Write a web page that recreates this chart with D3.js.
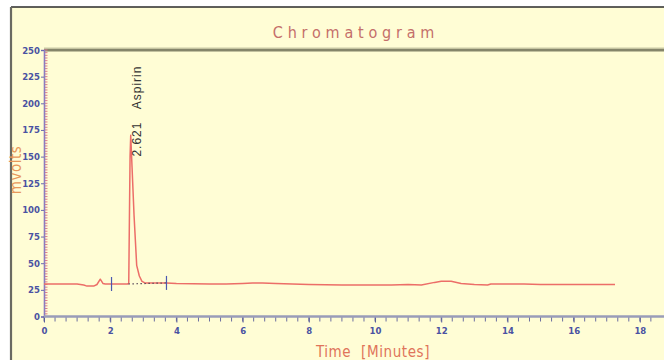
<!DOCTYPE html>
<html>
<head>
<meta charset="utf-8">
<script src="https://cdn.jsdelivr.net/npm/d3@7"></script>
<style>
  html, body { margin: 0; padding: 0; background: #fff; }
  svg { display: block; }
</style>
</head>
<body>
<div id="chart"></div>
<script>
'use strict';

// signal (time in minutes, response in mvolts)
var times = [0, 0.5, 1.0, 1.2, 1.3, 1.5, 1.6, 1.7, 1.78, 1.85, 2.0, 2.3, 2.52, 2.56, 2.6, 2.62, 2.66, 2.72, 2.8, 2.88, 2.96, 3.05, 3.3, 3.7, 4.0, 5.0, 5.5, 6.0, 6.3, 6.6, 7.0, 7.5, 8.0, 9.0, 10.0, 10.5, 11.0, 11.4, 11.8, 12.0, 12.3, 12.6, 13.0, 13.4, 13.5, 14.0, 14.5, 15.0, 15.5, 16.0, 16.5, 17.0, 17.25];
var mvolts = [30.5, 30.5, 30.5, 29.5, 28.5, 28.5, 30, 35, 31, 30.5, 30.5, 30.5, 30.5, 31, 150, 170, 140, 95, 48, 38, 33, 31.5, 31.5, 31.5, 31, 30.5, 30.5, 31, 31.5, 31.5, 31, 30.5, 30, 29.5, 29.5, 29.5, 30, 29.5, 32, 33, 33, 31, 30, 29.5, 30.5, 30.5, 30.5, 30, 30, 30, 30, 30, 30];

// integration baseline and its start/end markers
var baseTimes = [2.55, 3.7];
var baseValues = [30.5, 31.5];
var markerTimes = [2.04, 3.7];
var markerValues = [30.5, 31.5];

// peak label
var peakTime = 2.621;
var peakName = 'Aspirin';
var labelAt = 150;

var xTicks = [0, 2, 4, 6, 8, 10, 12, 14, 16, 18];
var yTicks = [0, 25, 50, 75, 100, 125, 150, 175, 200, 225, 250];

var W = 664, H = 360;
var plotLeft = 44, plotTop = 50, plotBottom = 316.5;
var narrow = '"Liberation Sans Narrow", "DejaVu Sans Condensed", sans-serif';

var svg = d3.select('#chart').append('svg').attr('width', W).attr('height', H);

// panel
svg.append('rect').attr('x', 11).attr('y', 7).attr('width', W - 11).attr('height', H - 7).attr('fill', '#fffdd5');
svg.append('line').attr('x1', 11).attr('x2', W).attr('y1', 7).attr('y2', 7).attr('stroke', '#2a2a2a').attr('stroke-width', 1.6);
svg.append('line').attr('x1', 11).attr('x2', 11).attr('y1', 7).attr('y2', H).attr('stroke', '#6a6a62').attr('stroke-width', 2.2);

var x = d3.scaleLinear().domain([0, 18.73]).range([plotLeft, W]);
var y = d3.scaleLinear().domain([0, 250]).range([plotBottom, plotTop]);

// title
svg.append('text').attr('x', 356).attr('y', 38).attr('text-anchor', 'middle')
  .style('font', '16px ' + narrow)
  .style('letter-spacing', '4.8px').attr('fill', '#c46f6a').text('Chromatogram');

// top frame of plot area
svg.append('line').attr('x1', plotLeft).attr('x2', W).attr('y1', plotTop).attr('y2', plotTop).attr('stroke', '#85856a').attr('stroke-width', 3);
svg.append('line').attr('x1', plotLeft).attr('x2', W).attr('y1', plotTop - 2).attr('y2', plotTop - 2).attr('stroke', '#c9c9a4').attr('stroke-width', 1);

// y axis: minor ticks every 2.5
var yMinor = d3.range(0, 250.01, 2.5);
svg.append('g').selectAll('line').data(yMinor).enter().append('line')
  .attr('x1', plotLeft).attr('x2', plotLeft + 3.5)
  .attr('y1', function (d) { return y(d); }).attr('y2', function (d) { return y(d); })
  .attr('stroke', '#e07a8a').attr('stroke-width', 1);

var yAxis = d3.axisLeft(y).tickValues(yTicks).tickSize(3).tickPadding(1);
var yAxisSvg = svg.append('g').attr('transform', 'translate(' + plotLeft + ',0)').call(yAxis);
yAxisSvg.select('.domain').attr('stroke', '#8a7cc0').attr('stroke-width', 1.6);
yAxisSvg.selectAll('.tick line').attr('stroke', '#6a6ab0');
yAxisSvg.selectAll('.tick text').attr('fill', '#4a52a2')
  .style('font', 'bold 9.5px ' + narrow);

// x axis: minor ticks every 1/3 minute
var xMinor = d3.range(0, 56).map(function (i) { return i / 3; });
svg.append('g').selectAll('line').data(xMinor).enter().append('line')
  .attr('x1', function (d) { return x(d); }).attr('x2', function (d) { return x(d); })
  .attr('y1', plotBottom).attr('y2', plotBottom + 5)
  .attr('stroke', '#5a5e9a').attr('stroke-width', 0.9);

var xAxis = d3.axisBottom(x).tickValues(xTicks).tickSize(6).tickPadding(5).tickFormat(d3.format('d'));
var xAxisSvg = svg.append('g').attr('transform', 'translate(0,' + plotBottom + ')').call(xAxis);
xAxisSvg.select('.domain').remove();
xAxisSvg.selectAll('.tick line').attr('stroke', '#5a5e9a');
xAxisSvg.selectAll('.tick text').attr('fill', '#4a52a2')
  .style('font', 'bold 9.5px ' + narrow);
svg.append('line').attr('x1', plotLeft).attr('x2', W).attr('y1', plotBottom).attr('y2', plotBottom)
  .attr('stroke', '#9a9cb8').attr('stroke-width', 2.6);

// axis titles
svg.append('text').attr('transform', 'translate(21,170) rotate(-90)').attr('text-anchor', 'middle')
  .style('font', '15px ' + narrow)
  .style('letter-spacing', '0.5px').attr('fill', '#e8985a').text('mvolts');
svg.append('text').attr('x', 373).attr('y', 357).attr('text-anchor', 'middle')
  .style('font', '15px ' + narrow).style('white-space', 'pre')
  .style('letter-spacing', '0.6px').attr('fill', '#e0745a').text('Time  [Minutes]');

// signal
var pts = times.map(function (t, i) { return [t, mvolts[i]]; });
var line = d3.line().x(function (d) { return x(d[0]); }).y(function (d) { return y(d[1]); });
svg.append('path').attr('d', line(pts)).attr('fill', 'none')
  .attr('stroke', '#ec6e68').attr('stroke-width', 1.5).attr('stroke-linejoin', 'round');

// baseline
svg.append('line').attr('x1', x(baseTimes[0])).attr('x2', x(baseTimes[1]))
  .attr('y1', y(baseValues[0])).attr('y2', y(baseValues[1]))
  .attr('stroke', '#5a4a5a').attr('stroke-width', 1.2).attr('stroke-dasharray', '1.5,2.5');

svg.append('g').selectAll('line').data(markerTimes).enter().append('line')
  .attr('x1', function (d) { return x(d); }).attr('x2', function (d) { return x(d); })
  .attr('y1', function (d, i) { return y(markerValues[i]) - 7; })
  .attr('y2', function (d, i) { return y(markerValues[i]) + 7; })
  .attr('stroke', '#4a58b0').attr('stroke-width', 1.2);

// peak annotation
svg.append('text')
  .attr('transform', 'translate(' + (x(peakTime) + 10.5) + ',' + y(labelAt) + ') rotate(-90)')
  .style('font', '12px "Liberation Sans", Arial, sans-serif').style('letter-spacing', '1px')
  .style('white-space', 'pre')
  .attr('fill', '#333').text(peakTime + '   ' + peakName);
</script>
</body>
</html>
